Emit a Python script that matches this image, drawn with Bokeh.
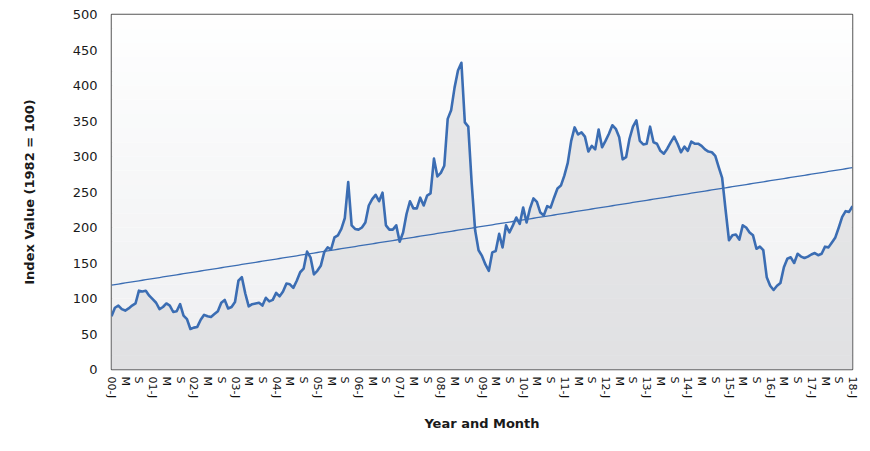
import numpy as np
from bokeh.plotting import figure
from bokeh.models import Range1d, FixedTicker, BoxAnnotation
from bokeh.embed import file_html
from bokeh.resources import INLINE

# Monthly index values, Jan 2000 .. Jan 2018 (1982 = 100)
values_2000_2002 = [75, 87, 90, 85, 83, 86, 90, 93, 111, 110, 111, 104,
                    99, 94, 85, 88, 93, 90, 81, 82, 92, 76, 71, 57,
                    59, 60, 70, 77, 75, 74, 78, 82, 94, 98, 86, 88]
values_2003_2005 = [95, 125, 130, 107, 89, 92, 93, 94, 90, 101, 96, 98,
                    108, 103, 110, 121, 120, 115, 125, 137, 142, 166, 158, 134,
                    139, 146, 165, 172, 169, 186, 189, 198, 213, 264, 203, 198]
values_2006_2008 = [197, 200, 207, 231, 240, 246, 237, 249, 203, 197, 197, 203,
                    180, 193, 219, 237, 227, 227, 242, 231, 245, 248, 297, 272,
                    277, 287, 353, 365, 397, 421, 432, 348, 342, 262, 196, 168]
values_2009_2011 = [160, 148, 139, 165, 167, 191, 172, 203, 193, 203, 214, 205,
                    228, 207, 227, 241, 236, 221, 217, 230, 228, 242, 255, 259,
                    273, 291, 322, 341, 331, 334, 328, 307, 315, 310, 338, 313]
values_2012_2014 = [322, 332, 344, 339, 327, 296, 299, 325, 342, 351, 322, 317,
                    318, 342, 320, 318, 308, 304, 311, 320, 328, 318, 306, 314,
                    308, 321, 318, 318, 315, 310, 307, 306, 301, 285, 270, 225]
values_2015_2018 = [182, 189, 190, 183, 203, 200, 193, 189, 170, 173, 168, 130,
                    118, 112, 118, 122, 144, 156, 158, 150, 163, 159, 157, 159,
                    162, 164, 161, 163, 173, 172, 179, 186, 200, 215, 223, 222,
                    230]

values = (values_2000_2002 + values_2003_2005 + values_2006_2008 +
          values_2009_2011 + values_2012_2014 + values_2015_2018)

tick_labels = ["00-J", "M", "S", "01-J", "M", "S", "02-J", "M", "S",
               "03-J", "M", "S", "04-J", "M", "S", "05-J", "M", "S",
               "06-J", "M", "S", "07-J", "M", "S", "08-J", "M", "S",
               "09-J", "M", "S", "10-J", "M", "S", "11-J", "M", "S",
               "12-J", "M", "S", "13-J", "M", "S", "14-J", "M", "S",
               "15-J", "M", "S", "16-J", "M", "S", "17-J", "M", "S",
               "18-J"]

months = np.arange(len(values))
vals = np.array(values, dtype=float)
tick_pos = list(range(0, len(values), 4))

# linear trend
slope, intercept = np.polyfit(months, vals, 1)
trend = slope * months + intercept

p = figure(width=862, height=443, output_backend="svg", toolbar_location=None,
           x_range=Range1d(0, len(values) - 1), y_range=Range1d(0, 500),
           min_border_left=111, min_border_right=10, min_border_top=14,
           min_border_bottom=74)

# soft vertical background gradient
n_bands = 25
c_top = np.array([255, 255, 255])
c_bot = np.array([238, 239, 241])
for k in range(n_bands):
    b0 = 500 * k / n_bands
    b1 = 500 * (k + 1) / n_bands
    t = (k + 0.5) / n_bands
    c = (c_bot * (1 - t) + c_top * t).astype(int)
    p.add_layout(BoxAnnotation(bottom=b0, top=b1, fill_color="#%02x%02x%02x" % tuple(c),
                               fill_alpha=1, line_alpha=0, level="underlay"))

p.varea(x=months, y1=np.zeros_like(vals), y2=vals, fill_color="#d3d4d6", fill_alpha=0.5)
p.line(months, vals, line_color="#3b6db3", line_width=2.6, line_join="round")
p.line(months, trend, line_color="#3b6db3", line_width=1.3)

p.grid.visible = False
p.outline_line_color = "#555555"
p.outline_line_width = 1.5
p.background_fill_color = "white"
p.border_fill_color = "white"

font = "DejaVu Sans"
p.yaxis.ticker = FixedTicker(ticks=list(range(0, 501, 50)))
p.yaxis.axis_label = "Index Value (1982 = 100)"
p.yaxis.axis_label_text_font = font
p.yaxis.axis_label_text_font_style = "bold"
p.yaxis.axis_label_text_font_size = "13px"
p.yaxis.axis_label_text_color = "#1a1a1a"
p.yaxis.axis_label_standoff = 33
p.yaxis.major_label_text_font = font
p.yaxis.major_label_text_font_size = "13px"
p.yaxis.major_label_text_color = "#1a1a1a"
p.yaxis.major_label_standoff = 8

p.xaxis.ticker = FixedTicker(ticks=tick_pos)
p.xaxis.major_label_overrides = {pos: lab for pos, lab in zip(tick_pos, tick_labels)}
p.xaxis.major_label_orientation = "vertical"
p.xaxis.major_label_text_font = font
p.xaxis.major_label_text_font_size = "11px"
p.xaxis.major_label_text_color = "#111111"
p.xaxis.major_label_standoff = 1
p.xaxis.axis_label = "Year and Month"
p.xaxis.axis_label_text_font = font
p.xaxis.axis_label_text_font_style = "bold"
p.xaxis.axis_label_text_font_size = "13px"
p.xaxis.axis_label_text_color = "#1a1a1a"
p.xaxis.axis_label_standoff = 15

for ax in (p.xaxis, p.yaxis):
    ax.axis_line_color = None
    ax.major_tick_line_color = None
    ax.minor_tick_line_color = None

open("out.html", "w").write(file_html(p, INLINE))
